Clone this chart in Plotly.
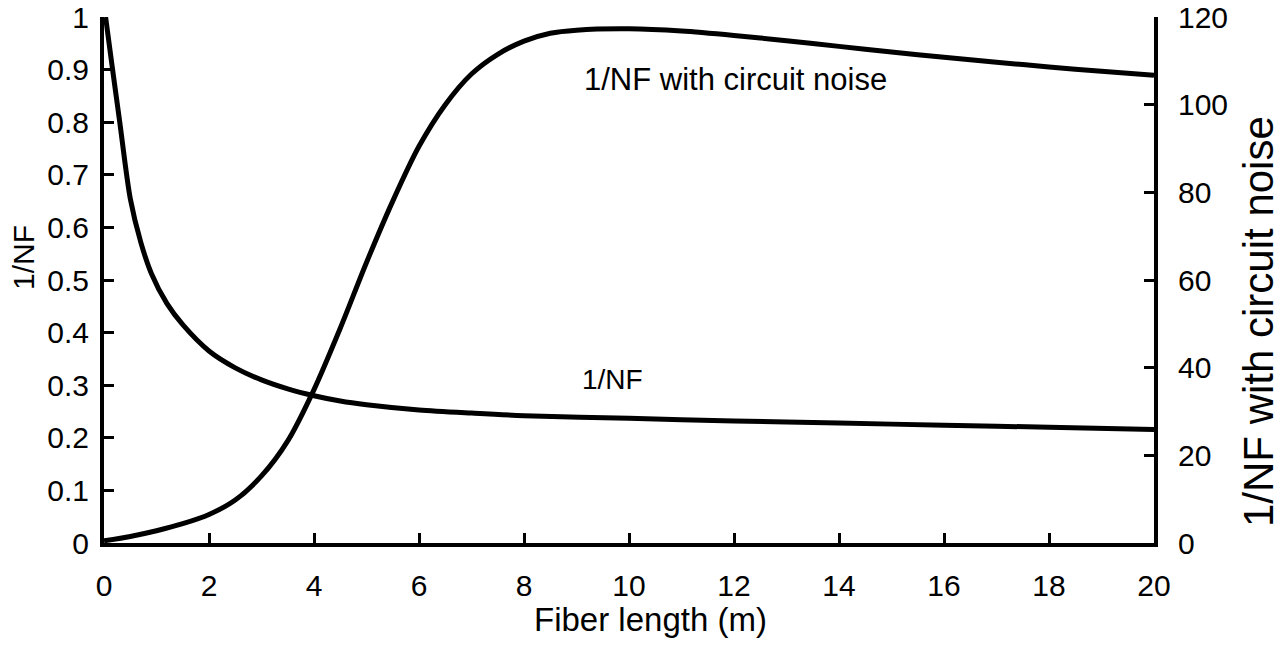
import plotly.graph_objects as go

# Data
nf_x = [0.03, 0.15, 0.3, 0.5, 0.7, 0.9, 1.2, 1.5, 2.0, 2.5, 3.0, 3.5, 4.0, 4.5, 5.0, 6.0, 7.0,
        8.0, 10.0, 12.0, 14.0, 16.0, 18.0, 20.0]
nf_y = [1.0, 0.91, 0.80, 0.655, 0.572, 0.513, 0.455, 0.415, 0.365, 0.333, 0.31, 0.293, 0.28,
        0.27, 0.263, 0.253, 0.247, 0.242, 0.237, 0.232, 0.228, 0.224, 0.22, 0.216]

cn_x = [0.0, 0.5, 1.0, 1.5, 2.0, 2.5, 3.0, 3.5, 4.0, 4.5, 5.0, 5.5, 6.0, 6.5, 7.0, 7.5, 8.0,
        8.5, 9.0, 10.0, 11.0, 12.0, 13.0, 14.0, 15.0, 16.0, 17.0, 18.0, 19.0, 20.0]
cn_y = [0.5, 1.5, 2.8, 4.4, 6.5, 9.8, 15.3, 23.3, 35.0, 49.0, 64.0, 78.0, 90.5, 100.0, 107.0,
        111.5, 114.5, 116.3, 117.0, 117.3, 116.8, 115.8, 114.6, 113.3, 112.0, 110.8, 109.7,
        108.6, 107.6, 106.7]

x_ticks = [0, 2, 4, 6, 8, 10, 12, 14, 16, 18, 20]
left_ticks = [0, 0.1, 0.2, 0.3, 0.4, 0.5, 0.6, 0.7, 0.8, 0.9, 1]
left_tick_text = ["0", "0.1", "0.2", "0.3", "0.4", "0.5", "0.6", "0.7", "0.8", "0.9", "1"]
right_ticks = [0, 20, 40, 60, 80, 100, 120]

FONT = "Liberation Sans, Arial, sans-serif"
L, R, T, B = 104, 1154, 17, 543


def px(x):
    return (x - L) / (R - L)


def py(y):
    return (B - y) / (B - T)


fig = go.Figure()
fig.add_trace(go.Scatter(x=nf_x, y=nf_y, mode="lines",
                         line=dict(color="black", width=5, shape="spline", smoothing=0.8),
                         name="1/NF", yaxis="y"))
fig.add_trace(go.Scatter(x=cn_x, y=cn_y, mode="lines",
                         line=dict(color="black", width=5, shape="spline", smoothing=0.8),
                         name="1/NF with circuit noise", yaxis="y2"))

axis_common = dict(ticks="inside", ticklen=10, tickwidth=3, tickcolor="black", showline=True,
                   linecolor="black", linewidth=4, showgrid=False, zeroline=False,
                   automargin=False, tickfont=dict(size=30))

fig.update_layout(
    width=1286, height=663,
    margin=dict(l=L, r=1286 - R, t=T, b=663 - B, autoexpand=False),
    paper_bgcolor="white", plot_bgcolor="white",
    showlegend=False,
    font=dict(family=FONT, size=30, color="black"),
    xaxis=dict(range=[0, 20], tickvals=x_ticks, ticklabelstandoff=13, **axis_common),
    yaxis=dict(range=[0, 1], tickvals=left_ticks, ticktext=left_tick_text,
               ticklabelstandoff=5, **axis_common),
    yaxis2=dict(range=[0, 120], tickvals=right_ticks, overlaying="y", side="right",
                ticklabelstandoff=14, **axis_common),
)

fig.add_annotation(x=9.1, y=0.882, xref="x", yref="y", text="1/NF with circuit noise",
                   showarrow=False, xanchor="left", yanchor="middle", font=dict(size=31))
fig.add_annotation(x=9.07, y=0.31, xref="x", yref="y", text="1/NF",
                   showarrow=False, xanchor="left", yanchor="middle", font=dict(size=28))

# axis titles
fig.add_annotation(x=px(650), y=py(619), xref="paper", yref="paper", text="Fiber length (m)",
                   showarrow=False, xanchor="center", yanchor="middle", font=dict(size=33))
fig.add_annotation(x=px(23), y=py(258), xref="paper", yref="paper",
                   text="1/NF", textangle=-90, showarrow=False, xanchor="center",
                   yanchor="middle", font=dict(size=30))
fig.add_annotation(x=px(1258), y=py(322), xref="paper", yref="paper",
                   text="1/NF with circuit noise", textangle=-90, showarrow=False,
                   xanchor="center", yanchor="middle", font=dict(size=42))

fig.write_html("out.html")
